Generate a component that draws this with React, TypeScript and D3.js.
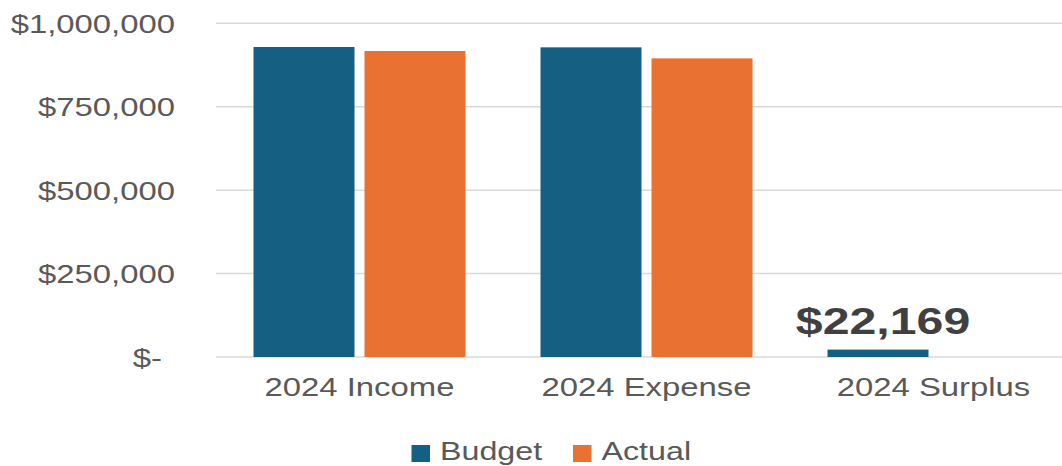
import React from "react";
import * as d3 from "d3";

const categories = ["2024 Income", "2024 Expense", "2024 Surplus"];
const seriesNames = ["Budget", "Actual"];
const budgetValues: (number | null)[] = [929000, 928000, 22169];
const actualValues: (number | null)[] = [917000, 895000, null];
const yTicks = [0, 250000, 500000, 750000, 1000000];
const surplusLabel = "$22,169";

const colors: Record<string, string> = { Budget: "#156082", Actual: "#E97132" };
const W = 1062;
const H = 466;
const SX = 1.24;
const FONT = "'Liberation Sans', Arial, sans-serif";

export default function App() {
  const x0 = d3.scaleBand<string>().domain(categories).range([216, 1077]).padding(0);
  const x1 = d3
    .scaleBand<string>()
    .domain(seriesNames)
    .range([37.5, x0.bandwidth() - 37.5])
    .paddingInner(10 / 111)
    .paddingOuter(0);
  const y = d3.scaleLinear().domain([0, 1000000]).range([357, 23.3]);
  const fmt = (v: number) => (v === 0 ? "$-" : "$" + d3.format(",")(v));

  const seriesData: Record<string, (number | null)[]> = {
    Budget: budgetValues,
    Actual: actualValues,
  };

  return (
    <svg
      width={W}
      height={H}
      style={{ position: "absolute", left: 0, top: 0, background: "#fff" }}
      fontFamily={FONT}
    >
      {yTicks.map((t) => (
        <g key={t}>
          <line x1={216} x2={W} y1={y(t)} y2={y(t)} stroke="#D9D9D9" strokeWidth={1.5} />
          <text
            transform={`translate(${t === 0 ? 162 : 175},${y(t) + 9.5}) scale(${SX},1)`}
            textAnchor="end"
            fontSize={26.5}
            fill="#595959"
          >
            {fmt(t)}
          </text>
        </g>
      ))}
      {categories.map((c, i) => (
        <g key={c} transform={`translate(${x0(c)},0)`}>
          {seriesNames.map((s) => {
            const v = seriesData[s][i];
            if (v == null) return null;
            return (
              <rect
                key={s}
                x={x1(s)}
                y={y(v)}
                width={x1.bandwidth()}
                height={y(0) - y(v)}
                fill={colors[s]}
              />
            );
          })}
          <text
            transform={`translate(${x0.bandwidth() / 2},396) scale(${SX},1)`}
            textAnchor="middle"
            fontSize={26.5}
            fill="#595959"
          >
            {c}
          </text>
        </g>
      ))}
      <text
        transform={`translate(${(x0("2024 Surplus") as number) + (x1("Budget") as number) + x1.bandwidth() / 2 + 5},334) scale(1.28,1)`}
        textAnchor="middle"
        fontSize={37.7}
        fontWeight="bold"
        fill="#404040"
      >
        {surplusLabel}
      </text>
      {seriesNames.map((s, i) => {
        const lx = [411.5, 573][i];
        return (
          <g key={s}>
            <rect x={lx} y={445} width={18.5} height={17} fill={colors[s]} />
            <text
              transform={`translate(${lx + 28.5},460) scale(1.24,1)`}
              fontSize={26}
              fill="#595959"
            >
              {s}
            </text>
          </g>
        );
      })}
    </svg>
  );
}
